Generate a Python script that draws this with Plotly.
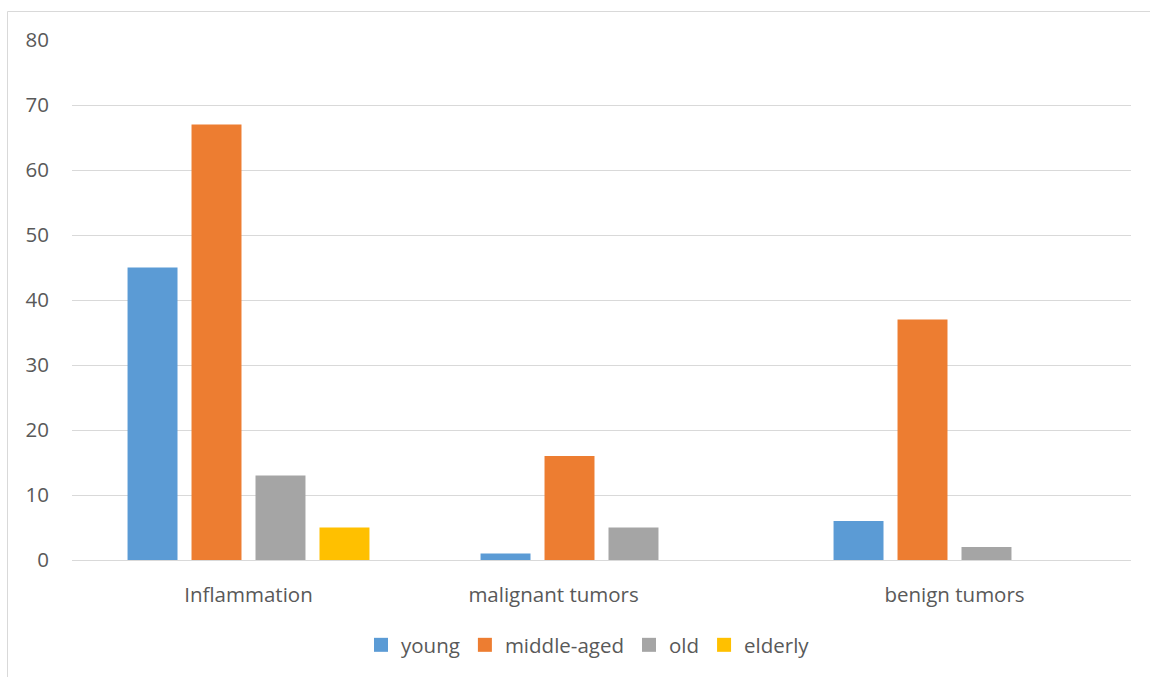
import plotly.graph_objects as go

categories = ["Inflammation", "malignant tumors", "benign tumors"]
tick_labels = ["Inflammation", "malignant tumors" + "\u00a0" * 18, "benign tumors"]
series_names = ["young", "middle-aged", "old", "elderly"]
young = [45, 1, 6]
middle_aged = [67, 16, 37]
old = [13, 5, 2]
elderly = [5, 0, 0]
colors = ["#5B9BD5", "#ED7D31", "#A5A5A5", "#FFC000"]

W, H = 1150, 677
L, R, T, B = 72, 19, 40, 117
pw, ph = W - L - R, H - T - B

fig = go.Figure()
for name, vals, c in zip(series_names, [young, middle_aged, old, elderly], colors):
    fig.add_trace(go.Bar(name=name, x=categories, y=vals, showlegend=False,
                         legendgroup=name, marker=dict(color=c, line=dict(width=0))))
for name, c in zip(series_names, colors):
    fig.add_trace(go.Scatter(name=name, x=[None], y=[None], mode="markers", legendgroup=name,
                             marker=dict(symbol="square", size=14, color=c, line=dict(width=0))))

def px_x(p):
    return (p - L) / pw

def px_y(p):
    return (H - B - p) / ph

fig.add_shape(type="rect", xref="paper", yref="paper",
              x0=px_x(7.5), x1=px_x(1160), y0=px_y(11.5), y1=px_y(700),
              line=dict(color="#D9D9D9", width=1), fillcolor="rgba(0,0,0,0)", layer="below")

fig.update_layout(
    width=W, height=H,
    margin=dict(l=L, r=R, t=T, b=B, pad=0),
    paper_bgcolor="white", plot_bgcolor="white",
    barmode="group", bargap=0.275, bargroupgap=0.219,
    font=dict(family="Open Sans", color="#595959", size=20),
    showlegend=True,
    legend=dict(orientation="h", x=px_x(588), xanchor="center", y=px_y(645), yanchor="middle",
                font=dict(size=20.5, color="#595959"), itemwidth=30, traceorder="normal",
                tracegroupgap=0),
    xaxis=dict(tickvals=categories, ticktext=tick_labels, showgrid=False, showline=False,
               ticks="", tickfont=dict(size=20.5, color="#595959"), ticklabelstandoff=20),
    yaxis=dict(range=[0, 80], dtick=10, showgrid=True, gridcolor="#D9D9D9", gridwidth=1,
               zeroline=True, zerolinecolor="#D9D9D9", zerolinewidth=1, showline=False,
               ticks="", tickfont=dict(size=20.5, color="#595959"), ticklabelstandoff=22),
)

fig.write_html("out.html")
